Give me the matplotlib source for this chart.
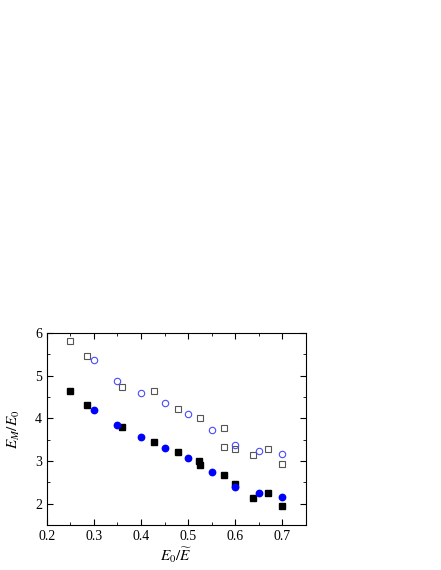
import matplotlib
matplotlib.use("Agg")
import matplotlib.pyplot as plt
from matplotlib.ticker import MultipleLocator

plt.rcParams["font.family"] = "Liberation Serif"
plt.rcParams["mathtext.fontset"] = "stix"

# open gray squares
sq_open_x = [0.25, 0.285, 0.359, 0.427, 0.478, 0.524, 0.575, 0.575, 0.600, 0.638, 0.670, 0.700]
sq_open_y = [5.81, 5.45, 4.74, 4.65, 4.22, 4.00, 3.76, 3.33, 3.27, 3.15, 3.29, 2.93]

# open blue circles
ci_open_x = [0.30, 0.35, 0.40, 0.45, 0.50, 0.55, 0.60, 0.65, 0.70]
ci_open_y = [5.37, 4.88, 4.58, 4.36, 4.11, 3.72, 3.38, 3.24, 3.16]

# filled black squares
sq_fill_x = [0.25, 0.285, 0.359, 0.427, 0.478, 0.523, 0.525, 0.575, 0.600, 0.638, 0.670, 0.700]
sq_fill_y = [4.64, 4.30, 3.80, 3.45, 3.20, 2.99, 2.90, 2.68, 2.46, 2.14, 2.25, 1.95]

# filled blue circles
ci_fill_x = [0.30, 0.35, 0.40, 0.45, 0.50, 0.55, 0.60, 0.65, 0.70]
ci_fill_y = [4.20, 3.84, 3.56, 3.31, 3.06, 2.73, 2.40, 2.25, 2.15]

fig = plt.figure(figsize=(4.41, 5.70), dpi=100)
ax = fig.add_axes([0.106, 0.079, 0.588, 0.337])

ax.plot(sq_open_x, sq_open_y, "s", ls="none", ms=4.2, mfc="none", mec="#555555", mew=0.8)
ax.plot(ci_open_x, ci_open_y, "o", ls="none", ms=4.6, mfc="none", mec="#4a4aff", mew=0.8)
ax.plot(sq_fill_x, sq_fill_y, "s", ls="none", ms=4.2, color="black")
ax.plot(ci_fill_x, ci_fill_y, "o", ls="none", ms=4.6, color="#0000ff")

ax.set_xlim(0.2, 0.75)
ax.set_ylim(1.5, 6)
ax.xaxis.set_major_locator(MultipleLocator(0.1))
ax.xaxis.set_minor_locator(MultipleLocator(0.05))
ax.yaxis.set_major_locator(MultipleLocator(1))
ax.yaxis.set_minor_locator(MultipleLocator(0.5))
ax.tick_params(which="both", direction="in", top=True, right=True, labelsize=10)
ax.tick_params(which="major", length=4)
ax.tick_params(which="minor", length=2)

ax.set_xlabel(r"$E_0/\widetilde{E}$", fontsize=11, labelpad=2)
ax.set_ylabel(r"$E_M/E_0$", fontsize=11, labelpad=9)

fig.savefig("out.png", dpi=100)
